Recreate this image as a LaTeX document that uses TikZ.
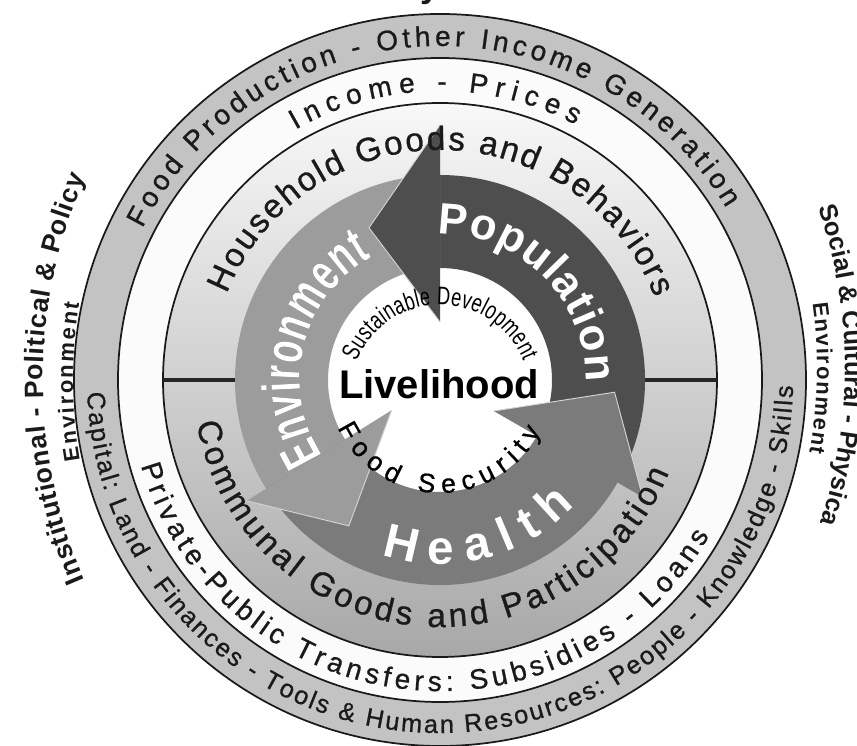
\documentclass[tikz,border=0pt]{standalone}
\usepackage{fontspec}
\setmainfont{Liberation Sans}
\newfontfamily\ringfont{Liberation Sans}[FakeBold=0.8]
\newfontfamily\condbold{Liberation Sans Bold}[FakeStretch=0.68]
\newfontfamily\condreg{Liberation Sans}[FakeStretch=0.72]
\usetikzlibrary{decorations.text}

\definecolor{ringgray}{HTML}{C3C3C3}
\definecolor{ringwhite}{HTML}{FBFBFB}
\definecolor{discTop}{HTML}{F8F8F8}
\definecolor{discMid}{HTML}{DCDCDC}
\definecolor{discBot}{HTML}{A8A8A8}
\definecolor{popgray}{HTML}{4E4E4E}
\definecolor{envgray}{HTML}{9C9C9C}
\definecolor{hlthgray}{HTML}{7B7B7B}
\definecolor{edgegray}{HTML}{D4D4D4}
\definecolor{inkgray}{HTML}{1A1A1A}

\tikzset{
  ringline/.style={draw=black!90, line width=1.3pt},
  divider/.style={draw=black!85, line width=3pt},
  headedge/.style={draw=edgegray, line width=0.7pt, line join=miter},
}

\begin{document}
\begin{tikzpicture}[x=0.75pt,y=0.75pt]
\useasboundingbox (0,0) rectangle (857,746);
\clip (0,0) rectangle (857,746);
\coordinate (C) at (440,366);
\coordinate (L) at (549,366);
\coordinate (R) at (345,378);

% concentric bands
\fill[ringgray] (C) circle[radius=366];
\fill[ringwhite] (C) circle[radius=322];
\shade[top color=discTop, middle color=discMid, bottom color=discBot] (C) circle[radius=277];
\draw[ringline] (C) circle[radius=366];
\draw[ringline] (C) circle[radius=322];
\draw[ringline] (C) circle[radius=277];

% horizontal dividers of the inner disc
\draw[divider] ([shift={(180:277)}]C) -- ([shift={(180:203)}]C);
\draw[divider] ([shift={(0:277)}]C) -- ([shift={(0:203)}]C);

% white core
\fill[white] (C) circle[radius=113];

% arrow bodies
\fill[popgray] ([shift={(-30:205)}]C) arc[start angle=-30,end angle=90,radius=205]
  -- ([shift={(90:112)}]C) arc[start angle=90,end angle=-30,radius=112] -- cycle;
\fill[envgray] ([shift={(90:205)}]C) arc[start angle=90,end angle=212,radius=205]
  -- ([shift={(212:112)}]C) arc[start angle=212,end angle=90,radius=112] -- cycle;
\fill[hlthgray] ([shift={(212:205)}]C) arc[start angle=212,end angle=330,radius=205]
  -- ([shift={(330:112)}]C) arc[start angle=330,end angle=212,radius=112] -- cycle;

% arrow heads
\fill[popgray] ([shift={(90:58)}]C) -- ([shift={(90:255)}]C) -- ([shift={(115:168)}]C) -- cycle;
\draw[headedge] ([shift={(90:255)}]C) -- ([shift={(115:168)}]C) -- ([shift={(90:58)}]C);
\fill[envgray] ([shift={(212:57)}]C) -- ([shift={(212:228)}]C) -- ([shift={(238:172)}]C) -- cycle;
\draw[headedge] ([shift={(212:228)}]C) -- ([shift={(238:172)}]C) -- ([shift={(212:57)}]C);
\fill[hlthgray] ([shift={(330:62)}]C) -- ([shift={(330:234)}]C) -- ([shift={(356:175)}]C) -- cycle;
\draw[headedge] ([shift={(330:234)}]C) -- ([shift={(356:175)}]C) -- ([shift={(330:62)}]C);

% outer ring texts
\path[decorate, decoration={text along path, text align=fit to path, text color=inkgray,
  text={|\ringfont\fontsize{21}{24}\selectfont|Food Production - Other Income Generation}}]
  ([shift={(153:334)}]C) arc[start angle=153,end angle=31,radius=334];
\path[decorate, decoration={text along path, text align=fit to path, text color=inkgray,
  text={|\ringfont\fontsize{19}{22}\selectfont|Capital: Land - Finances - Tools {\&} Human Resources: People - Knowledge - Skills}}]
  ([shift={(182:353)}]C) arc[start angle=182,end angle=359,radius=353];

% white ring texts
\path[decorate, decoration={text along path, text align=fit to path, text color=inkgray,
  text={|\ringfont\fontsize{21}{24}\selectfont|Income - Prices}}]
  ([shift={(120:289)}]C) arc[start angle=120,end angle=62,radius=289];
\path[decorate, decoration={text along path, text align=fit to path, text color=inkgray,
  text={|\ringfont\fontsize{21}{24}\selectfont|Private-Public Transfers: Subsidies - Loans}}]
  ([shift={(196:311)}]C) arc[start angle=196,end angle=330,radius=311];

% inner disc texts
\path[decorate, decoration={text along path, text align=fit to path, text color=inkgray,
  text={|\ringfont\fontsize{25}{28}\selectfont|Household Goods and Behaviors}}]
  ([shift={(158:230)}]C) arc[start angle=158,end angle=21,radius=230];
\path[decorate, decoration={text along path, text align=fit to path, text color=inkgray,
  text={|\ringfont\fontsize{25}{28}\selectfont|Communal Goods and Participation}}]
  ([shift={(190:247)}]C) arc[start angle=190,end angle=338,radius=247];

% arrow labels: dark offset copy, then white
\path[shift={(2,-2)}, decorate, decoration={text along path, text align=fit to path, text color=black!80,
  text={|\bfseries\fontsize{33}{36}\selectfont|Population}}]
  ([shift={(91:146)}]C) arc[start angle=91,end angle=-1,radius=146];
\path[decorate, decoration={text along path, text align=fit to path, text color=white,
  text={|\bfseries\fontsize{33}{36}\selectfont|Population}}]
  ([shift={(91:146)}]C) arc[start angle=91,end angle=-1,radius=146];

\path[shift={(2,-2)}, decorate, decoration={text along path, text align=fit to path, text color=black!75,
  text={|\condbold\fontsize{40}{44}\selectfont|Environment}}]
  ([shift={(213:140)}]C) arc[start angle=213,end angle=119,radius=140];
\path[decorate, decoration={text along path, text align=fit to path, text color=white,
  text={|\condbold\fontsize{40}{44}\selectfont|Environment}}]
  ([shift={(213:140)}]C) arc[start angle=213,end angle=119,radius=140];

\path[shift={(2,-2)}, decorate, decoration={text along path, text align=fit to path, text color=black!75,
  text={|\bfseries\fontsize{36}{40}\selectfont|Health}}]
  ([shift={(251.5:184)}]C) arc[start angle=251.5,end angle=317,radius=184];
\path[decorate, decoration={text along path, text align=fit to path, text color=white,
  text={|\bfseries\fontsize{36}{40}\selectfont|Health}}]
  ([shift={(251.5:184)}]C) arc[start angle=251.5,end angle=317,radius=184];

% core texts
\coordinate (S) at (440,351);
\path[decorate, decoration={text along path, text align=fit to path, text color=black,
  text={|\condreg\fontsize{19}{21}\selectfont|Sustainable Development}}]
  ([shift={(158:90)}]S) arc[start angle=158,end angle=22,radius=90];
\path[decorate, decoration={text along path, text align=fit to path, text color=black,
  text={|\ringfont\fontsize{20}{23}\selectfont|Food Security}}]
  ([shift={(205:113)}]C) arc[start angle=205,end angle=333,radius=113];
\node[font=\bfseries\fontsize{30}{34}\selectfont, text=black, inner sep=0pt] (core) at (439,362) {Livelihood};

% surrounding environment labels
\path[decorate, decoration={text along path, text align=fit to path, text color=inkgray,
  text={|\bfseries\fontsize{20}{23}\selectfont|Institutional - Political {\&} Policy}}]
  ([shift={(203.3:506)}]L) arc[start angle=203.3,end angle=156.4,radius=506];
\path[decorate, decoration={text along path, text align=fit to path, text color=inkgray,
  text={|\bfseries\fontsize{16.5}{19}\selectfont|Environment}}]
  ([shift={(189.7:476)}]L) arc[start angle=189.7,end angle=170.7,radius=476];
\path[decorate, decoration={text along path, text align=fit to path, text color=inkgray,
  text={|\bfseries\fontsize{19}{22}\selectfont|Social {\&} Cultural - Physical}}]
  ([shift={(18.7:500)}]R) arc[start angle=18.7,end angle=-18.5,radius=500];
\path[decorate, decoration={text along path, text align=fit to path, text color=inkgray,
  text={|\bfseries\fontsize{16.5}{19}\selectfont|Environment}}]
  ([shift={(7.9:472)}]R) arc[start angle=7.9,end angle=-10.4,radius=472];

% heading above the rings, mostly beyond the top edge
\node[anchor=base, font=\bfseries\fontsize{26}{28}\selectfont, text=inkgray, inner sep=0pt] (ttl) at (430,748) {y};
\end{tikzpicture}
\end{document}
